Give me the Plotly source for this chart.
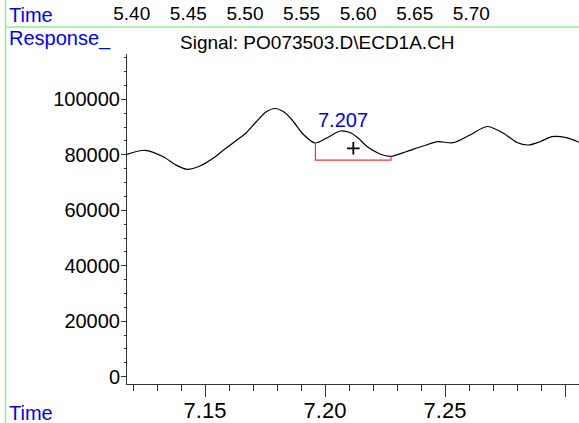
import plotly.graph_objects as go

# ---------------- data ----------------
time_min = [7.1175, 7.1250, 7.1326, 7.1379, 7.1425, 7.1479, 7.1529, 7.1583, 7.1633,
            7.1671, 7.1713, 7.1754, 7.1792, 7.1829, 7.1863, 7.1908, 7.1958, 7.2008,
            7.2063, 7.2104, 7.2138, 7.2175, 7.2229, 7.2275, 7.2338, 7.2408, 7.2471,
            7.2533, 7.2604, 7.2675, 7.2742, 7.2800, 7.2846, 7.2896, 7.2946, 7.3004,
            7.3058]
response = [80170, 81620, 79310, 76320, 74770, 75960, 78480, 82080, 85330,
            87850, 91820, 95420, 96680, 95420, 92540, 87490, 84250, 86050,
            88570, 88030, 86050, 82980, 80280, 79450, 81110, 83170, 84710,
            84350, 87130, 90190, 87850, 84430, 83530, 84710, 86520, 86160,
            84500]

baseline_x = [7.1960, 7.1960, 7.2275, 7.2275]
baseline_y = [84250, 78100, 78100, 79560]

peak_rt = "7.207"
peak_label_pos = (7.2076, 92600)
peak_marker = (7.2118, 82340)

y_ticks = [0, 20000, 40000, 60000, 80000, 100000]
x_ticks = [7.15, 7.20, 7.25, 7.30]
x_ticklabels = ["7.15", "7.20", "7.25", ""]
top_ticks = [5.40, 5.45, 5.50, 5.55, 5.60, 5.65, 5.70]
top_ticklabels = ["5.40", "5.45", "5.50", "5.55", "5.60", "5.65", "5.70"]

title_text = "Signal: PO073503.D\\ECD1A.CH"

# ---------------- layout geometry ----------------
W, H = 579, 423
ML, MR, MT, MB = 127, 0, 24, 39
PLOT_TOP = 54  # pixel y of top of y axis
pw = W - ML - MR
ph = H - MT - MB


def px_x(p):
    return (p - ML) / pw


def px_y(p):
    return (H - MB - p) / ph


FONT = "Liberation Sans, Arial, sans-serif"
BLUE = "#0000ff"
GREEN = "#90ee90"
AXC = "#333333"

fig = go.Figure()

fig.add_trace(go.Scatter(x=time_min, y=response, mode="lines", line=dict(color="black", width=1.2, shape="spline", smoothing=0.8),
                         hoverinfo="skip", showlegend=False))
fig.add_trace(go.Scatter(x=baseline_x, y=baseline_y, mode="lines", line=dict(color="#ee3333", width=1.2),
                         hoverinfo="skip", showlegend=False))
fig.add_trace(go.Scatter(x=[peak_marker[0]], y=[peak_marker[1]], mode="markers",
                         marker=dict(symbol="cross-thin", size=9, line=dict(color="black", width=1.8)),
                         hoverinfo="skip", showlegend=False))
# invisible trace for top axis
fig.add_trace(go.Scatter(x=[top_ticks[0]], y=[None], xaxis="x2", yaxis="y", mode="markers",
                         marker=dict(opacity=0), hoverinfo="skip", showlegend=False))

fig.add_annotation(x=peak_label_pos[0], y=peak_label_pos[1], text=peak_rt, showarrow=False,
                   font=dict(family=FONT, size=20, color=BLUE), xanchor="center", yanchor="middle")

ydom_top = px_y(PLOT_TOP)

fig.update_layout(
    width=W, height=H,
    margin=dict(l=ML, r=MR, t=MT, b=MB, pad=0),
    paper_bgcolor="white", plot_bgcolor="white",
    font=dict(family=FONT, color="black"),
    showlegend=False,
    xaxis=dict(range=[7.1175, 7.30583], tickmode="array", tickvals=x_ticks, ticktext=x_ticklabels,
               ticks="outside", ticklen=12, tickwidth=1, tickcolor=AXC,
               showline=True, linecolor=AXC, linewidth=1, showgrid=False, zeroline=False,
               tickfont=dict(family=FONT, size=22, color="black"), automargin=False,
               ticklabelstandoff=-5,
               minor=dict(dtick=0.01, tick0=7.0, ticks="outside", ticklen=6, tickcolor=AXC, tickwidth=1, showgrid=False),
               anchor="y", fixedrange=True),
    yaxis=dict(range=[-2630, 116330], domain=[0, ydom_top], tickmode="array", tickvals=y_ticks,
               tickformat="d", ticks="outside", ticklen=5, tickwidth=1, tickcolor=AXC,
               showline=True, linecolor=AXC, linewidth=1, showgrid=False, zeroline=False,
               tickfont=dict(family=FONT, size=20, color="black"), automargin=False,
               ticklabelstandoff=-3,
               minor=dict(dtick=5000, tick0=0, ticks="outside", ticklen=2, tickcolor=AXC, tickwidth=1, showgrid=False),
               fixedrange=True),
    xaxis2=dict(range=[5.3958, 5.7951], overlaying="x", side="top", anchor="free", position=1,
                tickmode="array", tickvals=top_ticks, ticktext=top_ticklabels, ticks="",
                showline=False, showgrid=False, zeroline=False, automargin=False,
                tickfont=dict(family=FONT, size=19, color="black"), fixedrange=True),
)

# texts
fig.add_annotation(xref="paper", yref="paper", x=px_x(7), y=px_y(15), text="Time", showarrow=False,
                   xanchor="left", yanchor="middle", font=dict(family=FONT, size=20, color=BLUE))
fig.add_annotation(xref="paper", yref="paper", x=px_x(7), y=px_y(39), text="Response_", showarrow=False,
                   xanchor="left", yanchor="middle", font=dict(family=FONT, size=20, color=BLUE))
fig.add_annotation(xref="paper", yref="paper", x=px_x(317), y=px_y(42), text=title_text, showarrow=False,
                   xanchor="center", yanchor="middle", font=dict(family=FONT, size=19, color="black"))
fig.add_annotation(xref="paper", yref="paper", x=px_x(7), y=px_y(413), text="Time", showarrow=False,
                   xanchor="left", yanchor="middle", font=dict(family=FONT, size=20, color=BLUE))

# green frame lines
fig.add_shape(type="line", xref="paper", yref="paper", x0=px_x(5.5), x1=px_x(5.5), y0=px_y(0), y1=px_y(H),
              line=dict(color=GREEN, width=1.5), layer="above")
fig.add_shape(type="line", xref="paper", yref="paper", x0=px_x(5.5), x1=px_x(W + 2), y0=px_y(27), y1=px_y(27),
              line=dict(color=GREEN, width=1.5), layer="above")

fig.write_html("out.html", config={"displayModeBar": False},
               post_script="document.body.style.margin='0';document.body.style.padding='0';document.body.style.overflow='hidden';")
